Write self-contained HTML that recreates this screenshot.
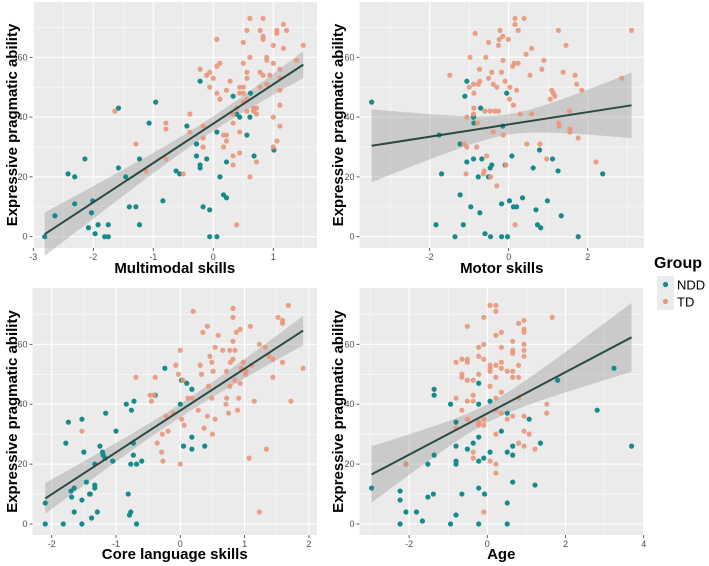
<!DOCTYPE html>
<html><head><meta charset="utf-8"><style>
body{margin:0;background:#fff;width:709px;height:566px;overflow:hidden}
svg{display:block;font-family:"Liberation Sans",Arial,sans-serif}
</style></head><body>
<svg id="chart" width="709" height="566" viewBox="0 0 709 566" xmlns="http://www.w3.org/2000/svg">
<g>
<text x="654" y="268" font-size="16" font-weight="bold" fill="#000">Group</text>
<rect x="657" y="276" width="17" height="17" fill="#ebebeb"/>
<circle cx="665.5" cy="284.5" r="2.6" fill="#178b8b"/>
<text x="677" y="289.5" font-size="13">NDD</text>
<rect x="657" y="293" width="17" height="17" fill="#ebebeb"/>
<circle cx="665.5" cy="301.5" r="2.6" fill="#e9977b"/>
<text x="677" y="306.5" font-size="13">TD</text>
</g>
</svg>
<script>
const p1NddX=[-2.81,-2.64,-2.42,-2.31,-2.31,-2.14,-2.08,-2.03,-2.01,-1.97,-1.92,-1.81,-1.75,-1.75,-1.58,-1.58,-1.46,-1.4,-1.29,-1.23,-1.23,-1.07,-0.96,-0.84,-0.62,-0.56,-0.44,-0.28,-0.28,-0.22,-0.22,-0.17,-0.11,-0.22,-0.06,-0.06,0.06,0.06,0.11,0.17,0.22,0.22,0.33,0.39,0.44,0.56,0.61,0.62,0.68,1.01];
const p1NddY=[0,7,21,20,11,26,3,8,12,1,4,0,0,4,23,43,20,10,10,26,4,38,45,12,22,21,37,31,27,24,23,10,26,52,9,0,0,35,20,14,13,25,47,41,40,34,40,48,27,29];
const p1TdX=[-1.64,-1.29,-1.12,-0.79,-0.79,-0.79,-0.5,-0.39,-0.39,-0.22,-0.17,-0.17,-0.17,-0.11,-0.06,-0.06,0,0.06,0.06,0.06,0.11,0.11,0.17,0.17,0.22,0.22,0.28,0.22,0.33,0.33,0.33,0.33,0.39,0.39,0.44,0.44,0.44,0.44,0.5,0.5,0.5,0.5,0.5,0.56,0.56,0.56,0.56,0.56,0.61,0.61,0.61,0.67,0.67,0.72,0.72,0.72,0.78,0.78,0.78,0.83,0.83,0.83,0.83,0.89,0.89,0.89,0.94,1,1,1,1,1.06,1.06,1.06,1.11,1.11,1.11,1.11,1.11,1.17,1.17,1.22,1.39,1.5];
const p1TdY=[42,31,22,38,36,26,21,41,35,56,33,30,37,54,50,55,53,48,66,57,58,46,30,34,32,34,52,49,41,38,27,24,43,4,28,35,48,50,48,45,50,65,58,69,55,53,46,42,73,60,20,43,42,41,43,25,69,55,50,73,67,66,54,60,59,51,54,64,58,40,30,68,69,32,53,56,49,37,44,71,63,69,59,64];
const p2NddX=[-3.47,-1.84,-1.76,-1.7,-1.36,-1.23,-1.23,-1.15,-1.11,-1.06,-1.06,-0.96,-0.89,-0.89,-0.88,-0.77,-0.73,-0.71,-0.68,-0.6,-0.51,-0.47,-0.46,-0.43,-0.18,-0.18,-0.15,-0.09,-0.05,-0.03,0.02,0.08,0.12,0.2,0.35,0.62,0.69,0.73,0.78,0.81,0.98,1.11,1.25,1.33,1.76,2.38];
const p2NddY=[45,4,34,21,0,14,31,4,47,25,52,10,26,40,38,20,8,43,26,1,20,23,0,24,11,0,37,24,48,0,12,27,10,10,13,23,9,4,29,3,12,26,22,7,0,21];
const p2TdX=[-1.49,-1.13,-1.08,-1.06,-1.06,-1,-0.98,-0.89,-0.89,-0.88,-0.88,-0.85,-0.81,-0.79,-0.77,-0.74,-0.73,-0.64,-0.62,-0.6,-0.58,-0.56,-0.51,-0.51,-0.47,-0.46,-0.43,-0.39,-0.39,-0.35,-0.3,-0.3,-0.26,-0.26,-0.24,-0.22,-0.18,-0.15,-0.14,-0.14,-0.09,-0.07,-0.01,0.02,0.03,0.1,0.12,0.14,0.16,0.16,0.16,0.2,0.24,0.24,0.29,0.39,0.44,0.46,0.54,0.58,0.58,0.79,0.84,0.89,0.96,1.05,1.09,1.13,1.17,1.26,1.26,1.28,1.38,1.45,1.54,1.55,1.55,1.68,1.72,1.76,1.85,2.21,2.86,3.11];
const p2TdY=[54,31,21,30,40,50,60,51,41,43,48,68,30,38,51,56,52,21,22,42,60,27,65,53,42,20,55,51,35,42,17,50,64,42,66,69,55,67,34,59,52,24,66,46,50,57,44,58,73,71,4,49,69,58,41,73,61,31,54,41,63,31,56,59,26,46,49,48,47,69,38,37,55,64,42,35,36,54,51,33,49,25,53,69];
const p3NddX=[-2.1,-2.1,-1.82,-1.78,-1.74,-1.7,-1.69,-1.65,-1.65,-1.53,-1.53,-1.53,-1.5,-1.46,-1.41,-1.4,-1.38,-1.33,-1.33,-1.33,-1.29,-1.25,-1.21,-1.2,-1.17,-1.16,-1.05,-1,-0.84,-0.81,-0.79,-0.77,-0.77,-0.76,-0.73,-0.73,-0.72,-0.68,-0.68,-0.6,-0.39,-0.24,0,0.02,0.05,0.1,0.18,0.18,0.18,0.38];
const p3NddY=[7,0,0,27,34,11,9,12,4,0,35,8,24,14,10,10,2,12,13,20,4,26,24,23,22,37,21,31,40,10,3,4,20,38,27,23,41,20,0,21,43,52,40,48,26,47,45,29,25,26];
const p3TdX=[-1.53,-0.69,-0.47,-0.45,-0.41,-0.39,-0.36,-0.29,-0.28,-0.27,-0.22,-0.19,-0.11,-0.07,-0.03,0,0,0.02,0.04,0.06,0.12,0.18,0.2,0.28,0.31,0.33,0.35,0.37,0.42,0.42,0.44,0.46,0.49,0.49,0.5,0.51,0.54,0.54,0.59,0.66,0.71,0.72,0.72,0.75,0.77,0.77,0.78,0.82,0.82,0.82,0.82,0.85,0.85,0.87,0.89,0.91,0.93,0.93,0.95,0.98,1.01,1.03,1.07,1.09,1.11,1.15,1.23,1.23,1.32,1.34,1.38,1.44,1.44,1.52,1.59,1.59,1.59,1.68,1.91,1.72];
const p3TdY=[31,49,43,41,43,49,27,24,30,21,36,31,37,53,50,58,20,35,48,33,42,42,71,38,53,50,64,32,66,36,46,56,42,54,30,51,59,35,63,58,40,51,42,37,58,46,54,55,72,69,61,58,48,64,38,42,65,47,52,54,50,51,22,66,53,41,4,60,59,25,56,55,49,69,68,67,54,73,52,41];
const p4NddX=[-2.96,-2.23,-2.23,-2.23,-2.08,-2.08,-1.81,-1.66,-1.52,-1.52,-1.38,-1.36,-1.36,-1.36,-0.94,-0.94,-0.8,-0.8,-0.8,-0.8,-0.8,-0.65,-0.51,-0.36,-0.22,-0.22,-0.22,-0.22,-0.22,-0.22,-0.09,-0.07,0.07,0.07,0.36,0.51,0.51,0.51,0.51,0.65,0.65,0.65,1.07,1.22,1.36,1.8,2.81,3.24,3.69];
const p4NddY=[12,11,8,0,20,4,4,1,9,20,10,23,45,43,40,0,26,21,20,34,3,10,25,27,21,0,12,29,47,40,22,10,24,41,31,37,24,7,0,23,26,14,35,13,27,48,38,52,26];
const p4TdX=[-2.08,-0.8,-0.8,-0.8,-0.65,-0.65,-0.65,-0.65,-0.51,-0.51,-0.51,-0.51,-0.51,-0.51,-0.36,-0.36,-0.36,-0.36,-0.36,-0.22,-0.22,-0.22,-0.22,-0.22,-0.09,-0.09,-0.09,-0.09,-0.09,-0.09,0.07,0.07,0.07,0.07,0.07,0.07,0.22,0.22,0.22,0.22,0.22,0.22,0.22,0.22,0.22,0.22,0.36,0.36,0.36,0.36,0.36,0.36,0.51,0.51,0.65,0.65,0.65,0.65,0.65,0.65,0.8,0.8,0.8,0.8,0.8,0.94,0.94,0.94,0.94,0.94,0.94,0.94,0.94,0.94,1.07,1.22,1.52,1.52,1.66];
const p4TdY=[20,54,42,32,55,50,49,38,66,55,54,48,41,35,48,43,41,24,22,59,56,50,34,33,55,69,60,33,4,35,73,53,52,51,46,21,73,71,63,53,49,42,30,20,17,38,64,59,54,52,44,37,51,35,61,58,57,51,49,36,67,53,49,42,27,68,65,64,60,58,56,36,31,26,30,25,40,37,69];
const yTicks=[0,20,40,60];
const yMinor=[10,30,50,70];
const p1XTicks=[-3,-2,-1,0,1];
const p2XTicks=[-2,0,2];
const p3XTicks=[-2,-1,0,1,2];
const p4XTicks=[-2,0,2,4];
const xTitles=["Multimodal skills","Motor skills","Core language skills","Age"];

const NS="http://www.w3.org/2000/svg";
const svg=document.getElementById('chart');
function mk(tag,attrs,parent){const e=document.createElementNS(NS,tag);for(const k in attrs)e.setAttribute(k,attrs[k]);(parent||svg).appendChild(e);return e;}

const panels=[
 {L:32.5,R:317,T:2,B:248,x0:213.3,xu:60,y0:236.7,yu:2.99,xt:p1XTicks,xm:[-2.5,-1.5,-0.5,0.5,1.5],nx:p1NddX,ny:p1NddY,tx:p1TdX,ty:p1TdY,ytx:12,xtY:273},
 {L:359.5,R:644,T:2,B:248,x0:508.7,xu:39.5,y0:236.7,yu:2.99,xt:p2XTicks,xm:[-3,-1,1,3],nx:p2NddX,ny:p2NddY,tx:p2TdX,ty:p2TdY,ytx:338,xtY:273},
 {L:32.5,R:317,T:288,B:535,x0:180.3,xu:64.3,y0:524,yu:2.995,xt:p3XTicks,xm:[-1.5,-0.5,0.5,1.5],nx:p3NddX,ny:p3NddY,tx:p3TdX,ty:p3TdY,ytx:12,xtY:559},
 {L:359.5,R:643,T:288,B:535,x0:487.3,xu:39.1,y0:524,yu:2.995,xt:p4XTicks,xm:[-3,-1,1,3],nx:p4NddX,ny:p4NddY,tx:p4TdX,ty:p4TdY,ytx:338,xtY:559}
];
const pnames=['multimodal','motor','core-language','age'];
panels.forEach((p,i)=>{
 const g=mk('g',{});
 
 
 const X=v=>p.x0+p.xu*v, Y=v=>p.y0-p.yu*v;
 const bg=mk('rect',{x:p.L,y:p.T,width:p.R-p.L,height:p.B-p.T,fill:'#ebebeb'},g);
 
 
 yMinor.forEach(v=>{const y=Y(v);if(y>p.T&&y<p.B)mk('line',{x1:p.L,x2:p.R,y1:y,y2:y,stroke:'#fff','stroke-width':0.5},g);});
 p.xm.forEach(v=>{const x=X(v);if(x>p.L&&x<p.R)mk('line',{x1:x,x2:x,y1:p.T,y2:p.B,stroke:'#fff','stroke-width':0.5},g);});
 yTicks.forEach(v=>{const y=Y(v);
  mk('line',{x1:p.L,x2:p.R,y1:y,y2:y,stroke:'#fff','stroke-width':1.1},g);
  mk('line',{x1:p.L-3,x2:p.L,y1:y,y2:y,stroke:'#333','stroke-width':0.8},g);
  const t=mk('text',{x:p.L-5,y:y+3,'font-size':9,'text-anchor':'end',fill:'#4d4d4d'},g);t.textContent=v;
  
  });
 p.xt.forEach(v=>{const x=X(v);
  mk('line',{x1:x,x2:x,y1:p.T,y2:p.B,stroke:'#fff','stroke-width':1.1},g);
  mk('line',{x1:x,x2:x,y1:p.B,y2:p.B+3,stroke:'#333','stroke-width':0.8},g);
  const t=mk('text',{x:x,y:p.B+12,'font-size':9,'text-anchor':'middle',fill:'#4d4d4d'},g);t.textContent=v;
  
  });
 // regression
 const xs=p.nx.concat(p.tx), ys=p.ny.concat(p.ty), n=xs.length;
 const mx=xs.reduce((a,b)=>a+b,0)/n, my=ys.reduce((a,b)=>a+b,0)/n;
 let sxx=0,sxy=0;for(let k=0;k<n;k++){sxx+=(xs[k]-mx)**2;sxy+=(xs[k]-mx)*(ys[k]-my);}
 const b=sxy/sxx,a=my-b*mx;let sse=0;for(let k=0;k<n;k++)sse+=(ys[k]-a-b*xs[k])**2;
 const s=Math.sqrt(sse/(n-2));const xmin=Math.min(...xs),xmax=Math.max(...xs);
 const up=[],lo=[];for(let k=0;k<=80;k++){const xv=xmin+(xmax-xmin)*k/80;const se=s*Math.sqrt(1/n+(xv-mx)**2/sxx);const yv=a+b*xv;up.push(X(xv)+','+Y(yv+1.97*se));lo.unshift(X(xv)+','+Y(yv-1.97*se));}
 const band=mk('polygon',{points:up.concat(lo).join(' '),fill:'#999','fill-opacity':0.4},g);
 
 
 p.nx.forEach((v,k)=>{const c=mk('circle',{cx:X(v),cy:Y(p.ny[k]),r:2.6,fill:'#178b8b'},g);
  
  });
 p.tx.forEach((v,k)=>{const c=mk('circle',{cx:X(v),cy:Y(p.ty[k]),r:2.6,fill:'#e9977b','fill-opacity':0.9},g);
  
  });
 const ln=mk('line',{x1:X(xmin),y1:Y(a+b*xmin),x2:X(xmax),y2:Y(a+b*xmax),stroke:'#2b4a46','stroke-width':2},g);
 
 
 const xt=mk('text',{x:(p.L+p.R)/2,y:p.xtY,'font-size':15,'font-weight':'bold','text-anchor':'middle'},g);xt.textContent=xTitles[i];
 
 
 const cy=(p.T+p.B)/2;
 const yt=mk('text',{x:p.ytx,y:cy,'font-size':15,'font-weight':'bold','text-anchor':'middle',transform:`rotate(-90 ${p.ytx} ${cy})`,dy:5},g);yt.textContent='Expressive pragmatic ability';
 
 
});
</script>
</body></html>
